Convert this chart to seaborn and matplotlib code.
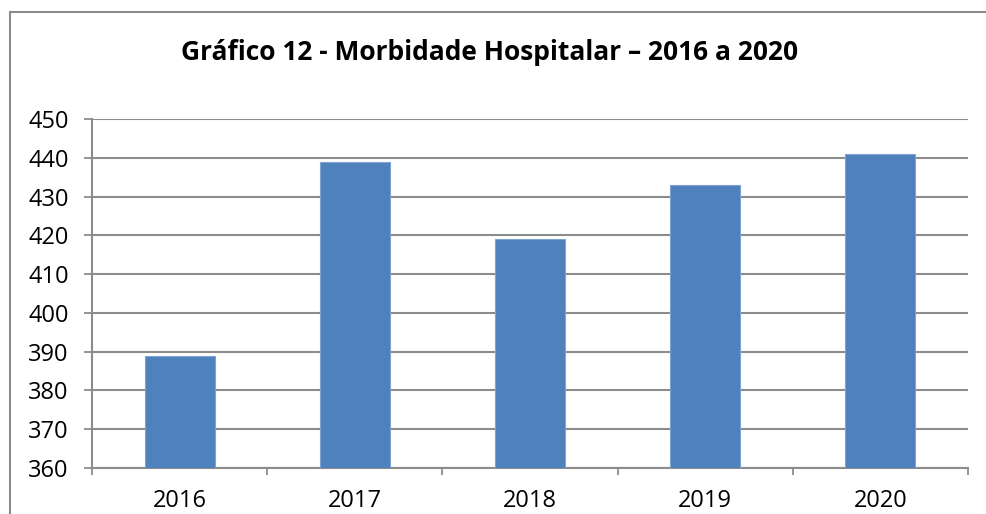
import pandas as pd
import seaborn as sns
import matplotlib.pyplot as plt
from matplotlib.patches import Rectangle

# Chart data
anos = ["2016", "2017", "2018", "2019", "2020"]
internacoes = [389, 439, 419, 433, 441]
y_ticks = [360, 370, 380, 390, 400, 410, 420, 430, 440, 450]

data = pd.DataFrame({"ano": anos, "valor": internacoes})

sns.set_style("white")
plt.rcParams["font.family"] = ["Open Sans", "DejaVu Sans"]
plt.rcParams["text.color"] = "black"
plt.rcParams["xtick.color"] = "black"
plt.rcParams["ytick.color"] = "black"

fig = plt.figure(figsize=(9.86, 5.14), dpi=100)
ax = fig.add_axes([0.0933, 0.0895, 0.8884, 0.679])

sns.barplot(data=data, x="ano", y="valor", color="#4F81BD", width=0.4,
            saturation=1, linewidth=0.8, edgecolor="#7FA3D3", ax=ax, zorder=3)

# Axis ranges and ticks
ax.set_ylim(360, 450)
ax.set_yticks(y_ticks)
ax.set_xlim(-0.5, len(anos) - 0.5)
ax.set_xticks(range(len(anos)))
ax.set_xticks([i - 0.5 for i in range(len(anos) + 1)], minor=True)
ax.tick_params(axis="x", which="major", bottom=True, length=0, pad=15,
               labelsize=17, labelcolor="black")
ax.tick_params(axis="x", which="minor", bottom=True, length=5, width=1.3,
               color="#8c8c8c", direction="out")
ax.tick_params(axis="y", left=True, length=5.8, width=1.3, color="#8c8c8c",
               pad=11, labelsize=17, labelcolor="black")
ax.set_xlabel("")
ax.set_ylabel("")

# Gridlines and spines
ax.grid(axis="y", color="#8c8c8c", linewidth=1.5, zorder=0)
ax.set_axisbelow(True)
for side in ["top", "right"]:
    ax.spines[side].set_visible(False)
for side in ["left", "bottom"]:
    ax.spines[side].set_color("#8c8c8c")
    ax.spines[side].set_linewidth(1.5)

# Title
fig.text(0.497, 1 - 52 / 514, "Gráfico 12 - Morbidade Hospitalar – 2016 a 2020",
         ha="center", va="center", fontsize=19, fontweight="bold", color="black")

# Outer chart border
fig.patches.append(Rectangle((10 / 986, -0.05), 1.0, 1 - 12 / 514 + 0.05,
                             transform=fig.transFigure, fill=False,
                             edgecolor="#8c8c8c", linewidth=1.5))

fig.savefig("out.png", dpi=100)
